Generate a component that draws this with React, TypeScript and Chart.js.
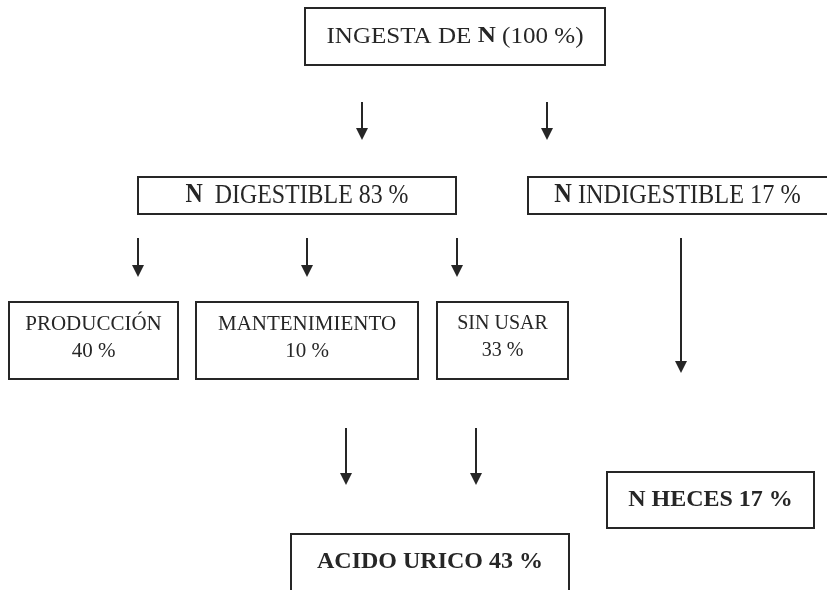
import { useEffect, useRef } from "react";
import { Chart, registerables } from "chart.js";

Chart.register(...registerables);

// ---- Data (diagram coordinates in a 827 x 590 value space) ----
const boxLabels: string[][] = [
  ["INGESTA DE **N** (100 %)"],
  ["**N**  DIGESTIBLE 83 %"],
  ["**N** INDIGESTIBLE 17 %"],
  ["PRODUCCIÓN", "40 %"],
  ["MANTENIMIENTO", "10 %"],
  ["SIN USAR", "33 %"],
  ["**N HECES 17 %**"],
  ["**ACIDO URICO 43 %**"],
];
const boxLeft = [305, 138, 528, 9, 196, 437, 607, 291];
const boxRight = [605, 456, 840, 178, 418, 568, 814, 569];
const boxTop = [8, 177, 177, 302, 302, 302, 472, 534];
const boxBottom = [65, 214, 214, 379, 379, 379, 528, 596];

const arrowX = [362, 547, 138, 307, 457, 681, 346, 476];
const arrowStart = [102, 102, 238, 238, 238, 238, 428, 428];
const arrowTip = [140, 140, 277, 277, 277, 373, 485, 485];

// ---- Styles ----
const INK = "#262626";
const FONT_FAMILY = '"Liberation Serif", "Times New Roman", serif';
const boxFontSize = [23, 27, 27, 21, 21, 20, 24, 24];
const boxScaleX = [1.09, 0.885, 0.9, 1, 1, 1, 1, 1];
const LINE_GAP = 27;

function parseRuns(line: string): { t: string; b: boolean }[] {
  const parts = line.split("**");
  return parts
    .map((t, i) => ({ t, b: i % 2 === 1 }))
    .filter((r) => r.t.length > 0);
}

const diagramPlugin = {
  id: "diagramPlugin",
  afterDatasetsDraw(chart: any) {
    const { ctx, scales, width, height } = chart;
    const xs = scales.x;
    const ys = scales.y;
    ctx.save();
    // arrow heads
    ctx.fillStyle = INK;
    arrowX.forEach((ax, i) => {
      const px = xs.getPixelForValue(ax);
      const tip = ys.getPixelForValue(arrowTip[i]);
      ctx.beginPath();
      ctx.moveTo(px, tip);
      ctx.lineTo(px - 6, tip - 12);
      ctx.lineTo(px + 6, tip - 12);
      ctx.closePath();
      ctx.fill();
    });
    // labels
    ctx.textBaseline = "middle";
    ctx.textAlign = "left";
    boxLabels.forEach((lines, i) => {
      const l = xs.getPixelForValue(boxLeft[i]);
      const r = Math.min(xs.getPixelForValue(boxRight[i]), width);
      const t = ys.getPixelForValue(boxTop[i]);
      const b = Math.min(ys.getPixelForValue(boxBottom[i]), height);
      const cx = (l + r) / 2;
      const cy = (t + b) / 2;
      const size = boxFontSize[i];
      const sx = boxScaleX[i];
      const n = lines.length;
      lines.forEach((line, li) => {
        const runs = parseRuns(line);
        const fontOf = (bold: boolean) =>
          `${bold ? "bold " : ""}${size}px ${FONT_FAMILY}`;
        let total = 0;
        const widths = runs.map((run) => {
          ctx.font = fontOf(run.b);
          const w = ctx.measureText(run.t).width;
          total += w;
          return w;
        });
        const y = cy + (li - (n - 1) / 2) * LINE_GAP - (n > 1 ? 3 : 0);
        ctx.save();
        ctx.translate(cx, y);
        ctx.scale(sx, 1);
        let x = -total / 2;
        runs.forEach((run, ri) => {
          ctx.font = fontOf(run.b);
          ctx.fillStyle = INK;
          ctx.fillText(run.t, x, 0);
          x += widths[ri];
        });
        ctx.restore();
      });
    });
    ctx.restore();
  },
};

export default function App() {
  const ref = useRef<HTMLCanvasElement>(null);
  useEffect(() => {
    const boxSets = boxLabels.map((_, i) => ({
      label: "box" + i,
      data: [
        { x: boxLeft[i], y: boxTop[i] },
        { x: boxRight[i], y: boxTop[i] },
        { x: boxRight[i], y: boxBottom[i] },
        { x: boxLeft[i], y: boxBottom[i] },
        { x: boxLeft[i], y: boxTop[i] },
      ],
      showLine: true,
      borderColor: INK,
      borderWidth: 2,
      pointRadius: 0,
      fill: false,
      tension: 0,
      borderCapStyle: "square" as const,
      borderJoinStyle: "miter" as const,
    }));
    const arrowSets = arrowX.map((ax, i) => ({
      label: "arrow" + i,
      data: [
        { x: ax, y: arrowStart[i] },
        { x: ax, y: arrowTip[i] - 8 },
      ],
      showLine: true,
      borderColor: INK,
      borderWidth: 2,
      pointRadius: 0,
      fill: false,
    }));
    const chart = new Chart(ref.current!, {
      type: "scatter",
      data: { datasets: [...boxSets, ...arrowSets] as any },
      options: {
        animation: false,
        responsive: false,
        devicePixelRatio: 1,
        layout: { padding: 0 },
        clip: false as any,
        events: [],
        scales: {
          x: { type: "linear", min: 0, max: 827, display: false },
          y: { type: "linear", min: 0, max: 590, reverse: true, display: false },
        },
        plugins: {
          legend: { display: false },
          tooltip: { enabled: false },
        },
      },
      plugins: [diagramPlugin],
    });
    return () => chart.destroy();
  }, []);
  return (
    <div
      style={{
        position: "absolute",
        left: 0,
        top: 0,
        width: 827,
        height: 590,
        background: "#fff",
        overflow: "hidden",
      }}
    >
      <canvas ref={ref} width={827} height={590} style={{ display: "block" }} />
    </div>
  );
}
